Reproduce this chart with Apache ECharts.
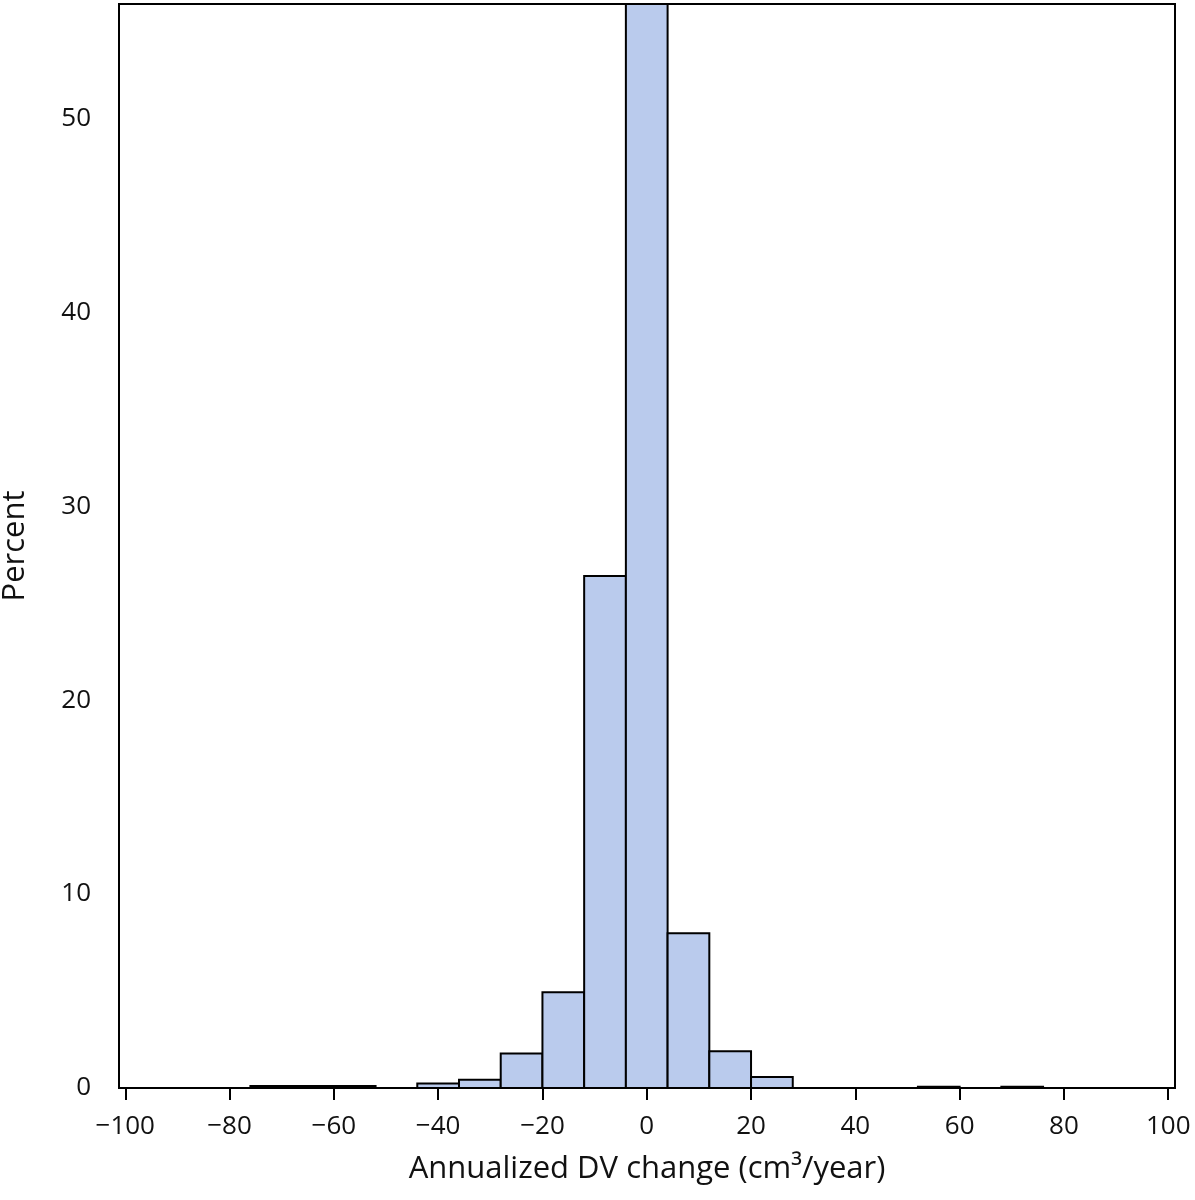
<!DOCTYPE html>
<html>
<head>
<meta charset="utf-8">
<script src="https://cdn.jsdelivr.net/npm/echarts@6/dist/echarts.min.js"></script>
<style>
html,body{margin:0;padding:0;background:#fff;}
#chart{width:1195px;height:1200px;}
</style>
</head>
<body>
<div id="chart"></div>
<script>
// Histogram bins (cm³/year) and percent of subjects
const binLeft  = [-76, -68, -60, -52, -44, -36, -28, -20, -12, -4, 4, 12, 20, 28, 36, 44, 52, 60, 68];
const binRight = [-68, -60, -52, -44, -36, -28, -20, -12, -4, 4, 12, 20, 28, 36, 44, 52, 60, 68, 76];
const percent  = [0.1, 0.1, 0.1, 0, 0.23, 0.43, 1.78, 4.94, 26.4, 55.9, 7.98, 1.89, 0.57, 0, 0, 0, 0.06, 0, 0.06];
const xTicks = [-100, -80, -60, -40, -20, 0, 20, 40, 60, 80, 100];
const yTicks = [0, 10, 20, 30, 40, 50];

const FONT = '"Open Sans", "Noto Sans", sans-serif';
const data = binLeft.map((l, i) => [l, binRight[i], percent[i]]);

const chart = echarts.init(document.getElementById('chart'), null, {renderer: 'canvas'});
chart.setOption({
  animation: false,
  backgroundColor: '#fff',
  grid: {left: 119, right: 20, top: 4, bottom: 112, show: true, borderColor: '#000', borderWidth: 2,
    backgroundColor: 'transparent', containLabel: false, outerBoundsMode: 'none'},
  xAxis: {
    type: 'value', min: -101.2, max: 101.3,
    name: 'Annualized DV change (cm³/year)', nameLocation: 'middle', nameGap: 66,
    nameTextStyle: {fontFamily: FONT, fontSize: 31, color: '#111'},
    axisLine: {show: true, onZero: false, lineStyle: {color: '#000', width: 2}},
    axisTick: {show: true, length: 12, lineStyle: {color: '#000', width: 2}, customValues: xTicks},
    axisLabel: {show: true, margin: 26, fontFamily: FONT, fontSize: 26, color: '#111', customValues: xTicks,
      formatter: v => String(v).replace('-', '\u2212')},
    splitLine: {show: false}
  },
  yAxis: {
    type: 'value', min: 0, max: 55.9,
    name: 'Percent', nameLocation: 'middle', nameGap: 88, nameRotate: 90,
    nameTextStyle: {fontFamily: FONT, fontSize: 31, color: '#111'},
    axisLine: {show: true, lineStyle: {color: '#000', width: 2}},
    axisTick: {show: true, length: 13, lineStyle: {color: '#000', width: 2}, customValues: yTicks},
    axisLabel: {show: true, margin: 28, fontFamily: FONT, fontSize: 26, color: '#111', customValues: yTicks},
    splitLine: {show: false}
  },
  series: [{
    type: 'custom',
    data: data,
    clip: true,
    renderItem: function (params, api) {
      const v = api.value(2);
      if (!v) return null;
      const p0 = api.coord([api.value(0), 0]);
      const p1 = api.coord([api.value(1), v]);
      return {
        type: 'rect',
        shape: {x: p0[0], y: p1[1], width: p1[0] - p0[0], height: p0[1] - p1[1]},
        style: {fill: '#bacbed', stroke: '#000', lineWidth: 2}
      };
    }
  }]
});
</script>
</body>
</html>
